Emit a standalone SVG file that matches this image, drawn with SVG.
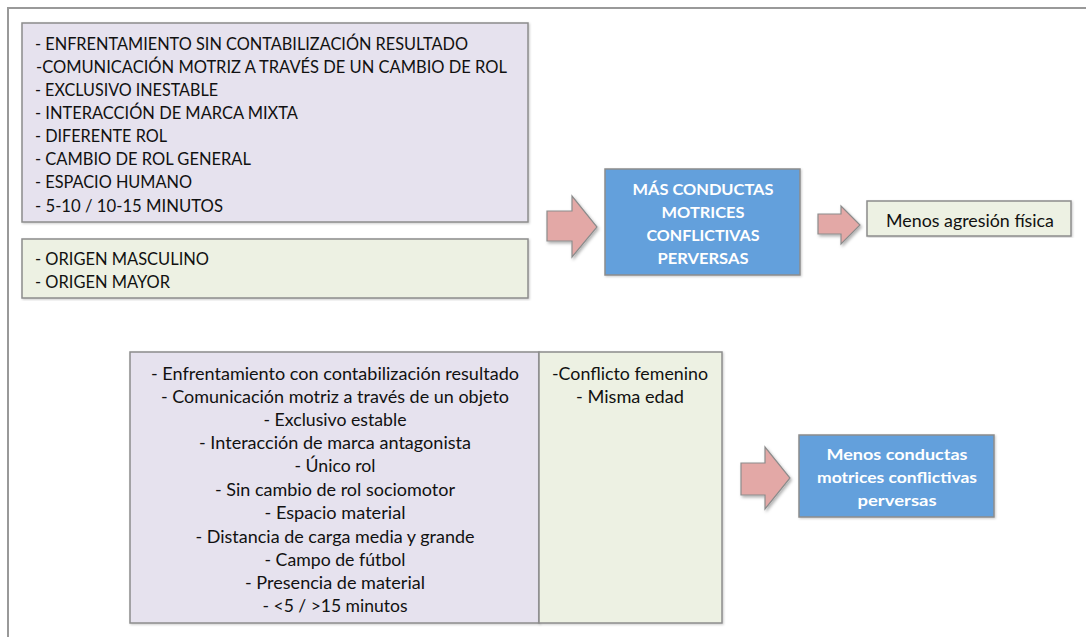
<svg xmlns="http://www.w3.org/2000/svg" width="1086" height="637" viewBox="0 0 1086 637">
<style>
.t{font-family:Lato,"Liberation Sans",sans-serif;font-size:16.5px;fill:#111}
.c{text-anchor:middle}
.w{font-family:Lato,"Liberation Sans",sans-serif;font-size:16px;font-weight:bold;fill:#fff;text-anchor:middle}
.pur{fill:#e6e2ee;stroke:#8c8c8c;stroke-width:1.5}
.grn{fill:#edf1e3;stroke:#8c8c8c;stroke-width:1.5}
.blu{fill:#63a0dc;stroke:#8c8c8c;stroke-width:1.5}
.arr{fill:#e3a8a6;stroke:#8c8c8c;stroke-width:1.2}
</style>
<defs>
<filter id="sh" x="-20%" y="-20%" width="140%" height="140%">
<feDropShadow dx="1.5" dy="2" stdDeviation="1.5" flood-color="#000" flood-opacity="0.3"/>
</filter>
<filter id="bs" x="-5%" y="-5%" width="110%" height="110%">
<feDropShadow dx="1" dy="1" stdDeviation="0.8" flood-color="#000" flood-opacity="0.2"/>
</filter>
</defs>
<rect width="1086" height="637" fill="#fff"/>
<path d="M8,637 V8 H1086" fill="none" stroke="#999" stroke-width="2"/>
<g id="box-top-left">
<rect class="pur" x="22" y="23" width="506" height="199" filter="url(#bs)"/>
<text class="t" x="35" y="50" textLength="433" lengthAdjust="spacingAndGlyphs">- ENFRENTAMIENTO SIN CONTABILIZACIÓN RESULTADO</text>
<text class="t" x="36" y="73" textLength="471" lengthAdjust="spacingAndGlyphs">-COMUNICACIÓN MOTRIZ A TRAVÉS DE UN CAMBIO DE ROL</text>
<text class="t" x="35" y="96" textLength="183" lengthAdjust="spacingAndGlyphs">- EXCLUSIVO INESTABLE</text>
<text class="t" x="35" y="119" textLength="263" lengthAdjust="spacingAndGlyphs">- INTERACCIÓN DE MARCA MIXTA</text>
<text class="t" x="35" y="142" textLength="132" lengthAdjust="spacingAndGlyphs">- DIFERENTE ROL</text>
<text class="t" x="35" y="165" textLength="216" lengthAdjust="spacingAndGlyphs">- CAMBIO DE ROL GENERAL</text>
<text class="t" x="35" y="188" textLength="157" lengthAdjust="spacingAndGlyphs">- ESPACIO HUMANO</text>
<text class="t" x="35" y="212" textLength="188" lengthAdjust="spacingAndGlyphs">- 5-10 / 10-15 MINUTOS</text>
</g>
<g id="box-origin">
<rect class="grn" x="22" y="239" width="506" height="59" filter="url(#bs)"/>
<text class="t" x="35" y="265" textLength="174" lengthAdjust="spacingAndGlyphs">- ORIGEN MASCULINO</text>
<text class="t" x="35" y="288" textLength="135" lengthAdjust="spacingAndGlyphs">- ORIGEN MAYOR</text>
</g>
<g id="box-mas">
<rect class="blu" x="605" y="169" width="195" height="106" filter="url(#bs)"/>
<text class="w" x="703" y="195" textLength="141" lengthAdjust="spacingAndGlyphs">MÁS CONDUCTAS</text>
<text class="w" x="703" y="218" textLength="83" lengthAdjust="spacingAndGlyphs">MOTRICES</text>
<text class="w" x="703" y="241" textLength="113" lengthAdjust="spacingAndGlyphs">CONFLICTIVAS</text>
<text class="w" x="703" y="264" textLength="91" lengthAdjust="spacingAndGlyphs">PERVERSAS</text>
</g>
<g id="box-agresion">
<rect class="grn" x="867" y="201" width="204" height="35" filter="url(#bs)"/>
<text class="t c" x="970" y="227" textLength="168" lengthAdjust="spacingAndGlyphs">Menos agresión física</text>
</g>
<g id="table-bottom">
<rect class="pur" x="130" y="352" width="409" height="271" filter="url(#bs)"/>
<rect class="grn" x="539" y="352" width="183" height="271" filter="url(#bs)"/>
<text class="t c" x="335" y="380" textLength="368" lengthAdjust="spacingAndGlyphs">- Enfrentamiento con contabilización resultado</text>
<text class="t c" x="335" y="403" textLength="348" lengthAdjust="spacingAndGlyphs">- Comunicación motriz a través de un objeto</text>
<text class="t c" x="335" y="426" textLength="143" lengthAdjust="spacingAndGlyphs">- Exclusivo estable</text>
<text class="t c" x="335" y="449" textLength="272" lengthAdjust="spacingAndGlyphs">- Interacción de marca antagonista</text>
<text class="t c" x="335" y="472" textLength="81" lengthAdjust="spacingAndGlyphs">- Único rol</text>
<text class="t c" x="335" y="496" textLength="240" lengthAdjust="spacingAndGlyphs">- Sin cambio de rol sociomotor</text>
<text class="t c" x="335" y="519" textLength="141" lengthAdjust="spacingAndGlyphs">- Espacio material</text>
<text class="t c" x="335" y="543" textLength="279" lengthAdjust="spacingAndGlyphs">- Distancia de carga media y grande</text>
<text class="t c" x="335" y="566" textLength="141" lengthAdjust="spacingAndGlyphs">- Campo de fútbol</text>
<text class="t c" x="335" y="589" textLength="180" lengthAdjust="spacingAndGlyphs">- Presencia de material</text>
<text class="t c" x="335" y="612" textLength="145" lengthAdjust="spacingAndGlyphs">- &lt;5 / &gt;15 minutos</text>
<text class="t c" x="630" y="380" textLength="156" lengthAdjust="spacingAndGlyphs">-Conflicto femenino</text>
<text class="t c" x="630" y="403" textLength="108" lengthAdjust="spacingAndGlyphs">- Misma edad</text>
</g>
<g id="box-menos">
<rect class="blu" x="799" y="435" width="195" height="82" filter="url(#bs)"/>
<text class="w" x="897" y="460" textLength="141" lengthAdjust="spacingAndGlyphs">Menos conductas</text>
<text class="w" x="897" y="483" textLength="160" lengthAdjust="spacingAndGlyphs">motrices conflictivas</text>
<text class="w" x="897" y="506" textLength="79" lengthAdjust="spacingAndGlyphs">perversas</text>
</g>
<g id="connectors" filter="url(#sh)">
<path class="arr" d="M547,211 H572 V196 L597,227 L572,257 V241 H547 Z"/>
<path class="arr" d="M818,214 H841 V206 L860,225 L841,244 V234 H818 Z"/>
<path class="arr" d="M741,463 H765 V447 L790,478 L765,509 V495 H741 Z"/>
</g>
</svg>
